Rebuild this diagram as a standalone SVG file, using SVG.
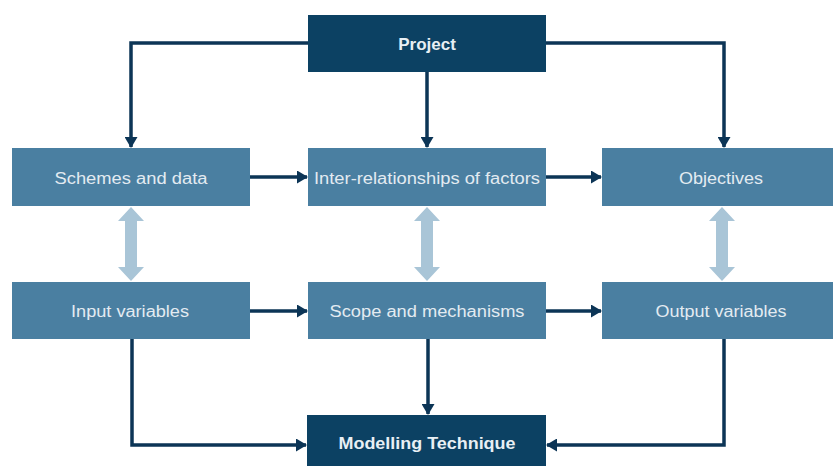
<svg xmlns="http://www.w3.org/2000/svg" width="833" height="466" viewBox="0 0 833 466">
<style>
.lt{fill:#4a7fa1}
.dk{fill:#0c4163}
.tl{font-family:"Liberation Sans",Arial,sans-serif;font-size:16px;fill:#e3ebf1;text-anchor:middle}
.td{font-family:"Liberation Sans",Arial,sans-serif;font-size:17px;font-weight:bold;fill:#e8eff4;text-anchor:middle}
.c{fill:none;stroke:#0c3556;stroke-width:3.5}
.dbl{fill:#a9c5d7}
</style>
<defs>
<marker id="ah" markerWidth="11" markerHeight="13" refX="10" refY="6.5" orient="auto" markerUnits="userSpaceOnUse" viewBox="0 0 11 13">
<path d="M0,0 L11,6.5 L0,13 Z" fill="#0c3556"/>
</marker>
</defs>
<rect width="833" height="466" fill="#ffffff"/>
<g id="connectors">
<path class="c" d="M308,43 H131 V147" marker-end="url(#ah)"/>
<path class="c" d="M427,72 V147" marker-end="url(#ah)"/>
<path class="c" d="M546,43 H724 V147" marker-end="url(#ah)"/>
<path class="c" d="M250,177 H307" marker-end="url(#ah)"/>
<path class="c" d="M546,177 H601" marker-end="url(#ah)"/>
<path class="c" d="M250,311 H307" marker-end="url(#ah)"/>
<path class="c" d="M546,311 H601" marker-end="url(#ah)"/>
<path class="c" d="M132,339 V445 H306" marker-end="url(#ah)"/>
<path class="c" d="M428,339 V414" marker-end="url(#ah)"/>
<path class="c" d="M724,339 V445 H547" marker-end="url(#ah)"/>
<path class="dbl" d="M131,207 L144,221 L137,221 L137,267 L144,267 L131,281 L118,267 L125,267 L125,221 L118,221 Z"/>
<path class="dbl" d="M427,207 L440,221 L433,221 L433,267 L440,267 L427,281 L414,267 L421,267 L421,221 L414,221 Z"/>
<path class="dbl" d="M722,207 L735,221 L728,221 L728,267 L735,267 L722,281 L709,267 L716,267 L716,221 L709,221 Z"/>
</g>
<g id="project">
<rect class="dk" x="308" y="15" width="238" height="57"/>
<text class="td" x="427" y="50">Project</text>
</g>
<g id="schemes">
<rect class="lt" x="12" y="148" width="238" height="58"/>
<text class="tl" x="131" y="184" textLength="153" lengthAdjust="spacingAndGlyphs">Schemes and data</text>
</g>
<g id="inter">
<rect class="lt" x="308" y="148" width="238" height="58"/>
<text class="tl" x="427" y="184" textLength="226" lengthAdjust="spacingAndGlyphs">Inter-relationships of factors</text>
</g>
<g id="objectives">
<rect class="lt" x="602" y="148" width="240" height="58"/>
<text class="tl" x="721" y="184" textLength="84" lengthAdjust="spacingAndGlyphs">Objectives</text>
</g>
<g id="input">
<rect class="lt" x="12" y="282" width="238" height="57"/>
<text class="tl" x="130" y="317" textLength="118" lengthAdjust="spacingAndGlyphs">Input variables</text>
</g>
<g id="scope">
<rect class="lt" x="308" y="282" width="238" height="57"/>
<text class="tl" x="427" y="317" textLength="195" lengthAdjust="spacingAndGlyphs">Scope and mechanisms</text>
</g>
<g id="output">
<rect class="lt" x="602" y="282" width="240" height="57"/>
<text class="tl" x="721" y="317" textLength="131" lengthAdjust="spacingAndGlyphs">Output variables</text>
</g>
<g id="modelling">
<rect class="dk" x="307" y="415" width="239" height="57"/>
<text class="td" x="427" y="449" textLength="177" lengthAdjust="spacingAndGlyphs">Modelling  Technique</text>
</g>
</svg>
